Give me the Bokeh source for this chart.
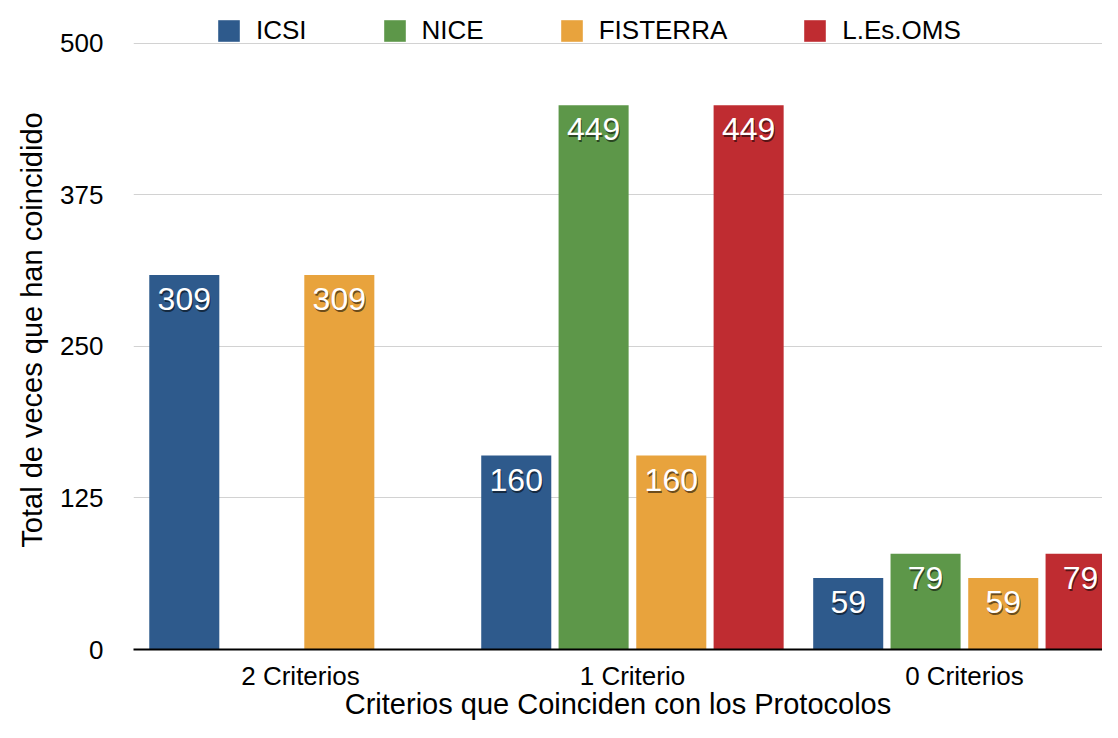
from bokeh.plotting import figure
from bokeh.models import ColumnDataSource, Range1d, FixedTicker, Legend, LegendItem, Title
from bokeh.core.properties import value
from bokeh.embed import file_html
from bokeh.resources import INLINE

# ---- data ----
categories = ["2 Criterios", "1 Criterio", "0 Criterios"]
series = ["ICSI", "NICE", "FISTERRA", "L.Es.OMS"]
icsi = [309, 160, 59]
nice = [None, 449, 79]
fisterra = [309, 160, 59]
oms = [None, 449, 79]
values = [icsi, nice, fisterra, oms]
colors = ["#2e5a8c", "#5d9749", "#e8a33d", "#bf2c31"]
y_ticks = [0, 125, 250, 375, 500]
x_title = "Criterios que Coinciden con los Protocolos"
y_title = "Total de veces que han coincidido"

FONT = "Liberation Sans"
offsets = [-0.35, -0.117, 0.117, 0.35]
bar_w = 0.211

p = figure(width=1102, height=722, output_backend="svg", toolbar_location=None,
           x_range=Range1d(-0.503, 2.416), y_range=Range1d(0, 527.1),
           min_border_left=133, min_border_right=0, min_border_top=10,
           min_border_bottom=71)
p.outline_line_color = None
p.background_fill_color = "white"

items = []
for name, vals, col, off in zip(series, values, colors, offsets):
    xs, tops, labels = [], [], []
    for i, v in enumerate(vals):
        if v is None:
            continue
        xs.append(i + off)
        tops.append(v)
        labels.append(str(v))
    src = ColumnDataSource(dict(x=xs, top=tops, label=labels))
    r = p.vbar(x="x", top="top", bottom=0, width=bar_w, source=src,
               fill_color=col, line_color=None)
    items.append(LegendItem(label=name, renderers=[r]))
    p.text(x="x", y="top", text="label", source=src, text_color="black",
           text_alpha=0.55, text_font=value(FONT), text_font_size="32px",
           text_align="center", text_baseline="middle", x_offset=1, y_offset=26)
    p.text(x="x", y="top", text="label", source=src, text_color="white",
           text_font=value(FONT), text_font_size="32px",
           text_align="center", text_baseline="middle", y_offset=24)

legend = Legend(items=items, orientation="horizontal", location=(82, 603),
                spacing=74, glyph_width=27, glyph_height=27, label_standoff=14,
                padding=0, margin=0, border_line_color=None,
                background_fill_alpha=0, label_text_font=FONT,
                label_text_font_size="26px", label_text_color="black")
p.add_layout(legend)

# x axis
p.xaxis.ticker = FixedTicker(ticks=list(range(len(categories))))
p.xaxis.major_label_overrides = {i: c for i, c in enumerate(categories)}
p.xaxis.axis_line_color = "black"
p.xaxis.axis_line_width = 2
p.xaxis.major_tick_line_color = None
p.xaxis.minor_tick_line_color = None
p.xaxis.major_label_text_font = FONT
p.xaxis.major_label_text_font_size = "26px"
p.xaxis.major_label_text_color = "black"
p.xaxis.major_label_standoff = 5
p.xaxis.axis_label = x_title
p.xaxis.axis_label_text_font = FONT
p.xaxis.axis_label_text_font_size = "29px"
p.xaxis.axis_label_text_font_style = "normal"
p.xaxis.axis_label_text_color = "black"
p.xaxis.axis_label_standoff = -6

# y axis
p.yaxis.ticker = FixedTicker(ticks=y_ticks)
p.yaxis.axis_line_color = None
p.yaxis.major_tick_line_color = None
p.yaxis.minor_tick_line_color = None
p.yaxis.major_label_text_font = FONT
p.yaxis.major_label_text_font_size = "26px"
p.yaxis.major_label_text_color = "black"
p.yaxis.major_label_standoff = 24

p.add_layout(Title(text=y_title, align="center", offset=0, standoff=20,
                   text_font=FONT, text_font_size="29px",
                   text_font_style="normal", text_color="black"), "left")

p.xgrid.grid_line_color = None
p.ygrid.grid_line_color = "#d2d2d2"
p.ygrid.grid_line_width = 1

open("out.html", "w").write(file_html(p, INLINE))
